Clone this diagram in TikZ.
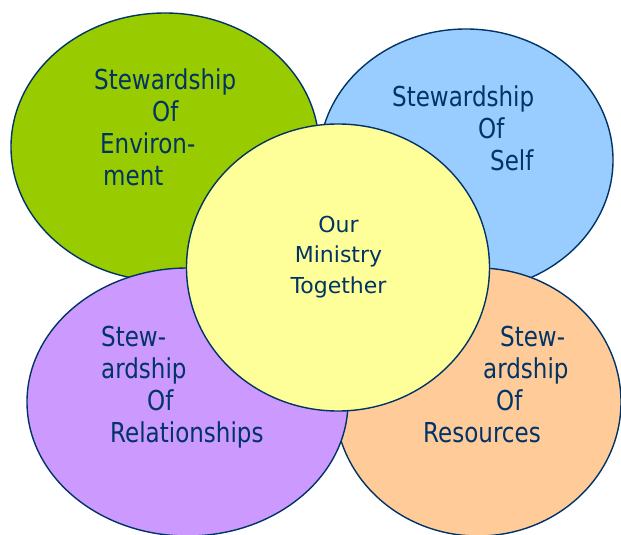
\documentclass[tikz,border=0pt]{standalone}
\usepackage{fontspec}
\setmainfont{DejaVu Sans}
\newfontfamily\narrowfont{DejaVu Sans}[FakeStretch=0.84]
\usetikzlibrary{shapes.geometric}
\definecolor{envgreen}{RGB}{153,204,0}
\definecolor{selfblue}{RGB}{153,204,255}
\definecolor{relpurple}{RGB}{204,153,255}
\definecolor{resorange}{RGB}{255,204,153}
\definecolor{ministryyellow}{RGB}{255,255,153}
\definecolor{inkblue}{RGB}{0,51,102}

\begin{document}
\begin{tikzpicture}[x=1pt, y=-1pt,
	area/.style={draw=inkblue, line width=1.4pt, ellipse, inner sep=0pt},
	areatext/.style={text=inkblue, anchor=base west, inner sep=0pt, align=left, font=\narrowfont\fontsize{27.4}{32}\selectfont},
	ministrytext/.style={text=inkblue, anchor=base, inner sep=0pt, align=center, font=\fontsize{22}{30.5}\selectfont}]
	\useasboundingbox (0,0) rectangle (621,535);
	
	% Draw the four outer areas
	\node[area, fill=envgreen, minimum width=308pt, minimum height=268pt] (env) at (165,147) {};
	\node[area, fill=selfblue, minimum width=294pt, minimum height=262pt] (self) at (466,160) {};
	\node[area, fill=resorange, minimum width=286pt, minimum height=268pt] (res) at (478,402) {};
	\node[area, fill=relpurple, minimum width=321pt, minimum height=268pt] (rel) at (187.5,402) {};
	
	% Draw the centre circle on top
	\node[area, fill=ministryyellow, minimum width=303pt, minimum height=287pt] (ministry) at (338,267.5) {};
	
	% Labels (placed by the baseline of their last line)
	\node[areatext] (envtext) at (94,185) {Stewardship\\\hspace*{58pt}Of\\\hspace*{6pt}Environ-\\\hspace*{9pt}ment};
	\node[areatext] (selftext) at (392,170) {Stewardship\\\hspace*{86pt}Of\\\hspace*{98pt}Self};
	\node[areatext] (reltext) at (101,442) {Stew-\\ardship\\\hspace*{46pt}Of\\\hspace*{9pt}Relationships};
	\node[areatext] (restext) at (423,442) {\hspace*{77pt}Stew-\\\hspace*{60pt}ardship\\\hspace*{73pt}Of\\Resources};
	\node[ministrytext] (ministrylabel) at (338.5,293) {Our\\Ministry\\Together};
\end{tikzpicture}
\end{document}
